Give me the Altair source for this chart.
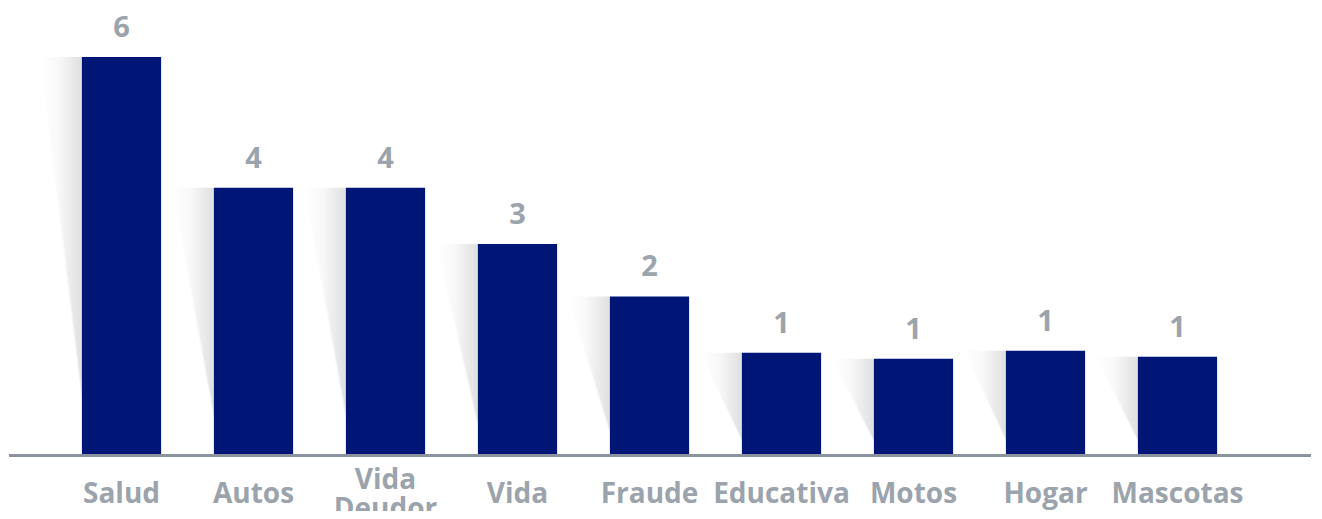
import altair as alt
import pandas as pd

categories = ["Salud", "Autos", "Vida Deudor", "Vida", "Fraude",
              "Educativa", "Motos", "Hogar", "Mascotas"]
counts = [6, 4, 4, 3, 2, 1, 1, 1, 1]
# drawn bar heights (bars are not strictly proportional)
drawn_heights = [6.0, 4.03, 4.03, 3.18, 2.39, 1.54, 1.45, 1.57, 1.48]

df = pd.DataFrame({"cat": categories, "count": counts, "h": drawn_heights})

BAR = "#001677"
TXT = "#9ba3ad"
FONT = "Open Sans"
W, H = 1188, 398

x = alt.X("cat:N", sort=categories,
          scale=alt.Scale(paddingInner=0.4, paddingOuter=0.2), axis=None)
y = alt.Y("h:Q", scale=alt.Scale(domain=[0, 6], nice=False, zero=True), axis=None)

base = alt.Chart(df)

shadow_grad = {
    "gradient": "linear",
    "x1": 0, "y1": 0, "x2": 1, "y2": 0,
    "stops": [{"offset": 0.0, "color": "#ffffff"},
              {"offset": 0.45, "color": "#f8f8f8"},
              {"offset": 1.0, "color": "#dfdfdf"}],
}
mask_grad = {
    "gradient": "linear",
    "x1": 0, "y1": 0, "x2": 0.88, "y2": -1,
    "stops": [{"offset": 0.0, "color": "#ffffff"},
              {"offset": 0.03, "color": "rgba(255,255,255,0)"},
              {"offset": 1.0, "color": "rgba(255,255,255,0)"}],
}

shadow = base.mark_bar(width=42, xOffset=-60.5, fill=shadow_grad).encode(x=x, y=y)
mask = base.mark_bar(width=43, xOffset=-61, fill=mask_grad).encode(x=x, y=y)
bars = base.mark_bar(color=BAR).encode(x=x, y=y)
rule = base.mark_rule(color="#8b939e", strokeWidth=2.5).encode(
    y=alt.value(H + 0.5), x=alt.value(-46), x2=alt.value(1255)
)
values = base.mark_text(dy=-14, baseline="bottom", font=FONT, fontWeight="bold",
                        fontSize=29, color=TXT).encode(x=x, y=y, text="count:Q")
cat_single = base.transform_filter("indexof(datum.cat, ' ') < 0").mark_text(
    dy=40, baseline="middle", font=FONT, fontWeight="bold", fontSize=28, color=TXT
).encode(x=x, y=alt.datum(0), text="cat:N")
cat_multi = base.transform_filter("indexof(datum.cat, ' ') >= 0").mark_text(
    dy=26, baseline="middle", font=FONT, fontWeight="bold", fontSize=28, color=TXT,
    lineBreak=" ", lineHeight=29
).encode(x=x, y=alt.datum(0), text="cat:N")

chart = alt.layer(shadow, mask, bars, rule, values, cat_single, cat_multi).properties(
    width=W, height=H,
    autosize=alt.AutoSizeParams(type="none"),
    padding={"left": 47.5, "top": 49, "right": 70, "bottom": 56},
).configure_view(stroke=None)

chart.save("out.html", embed_options={"renderer": "svg", "actions": False})
